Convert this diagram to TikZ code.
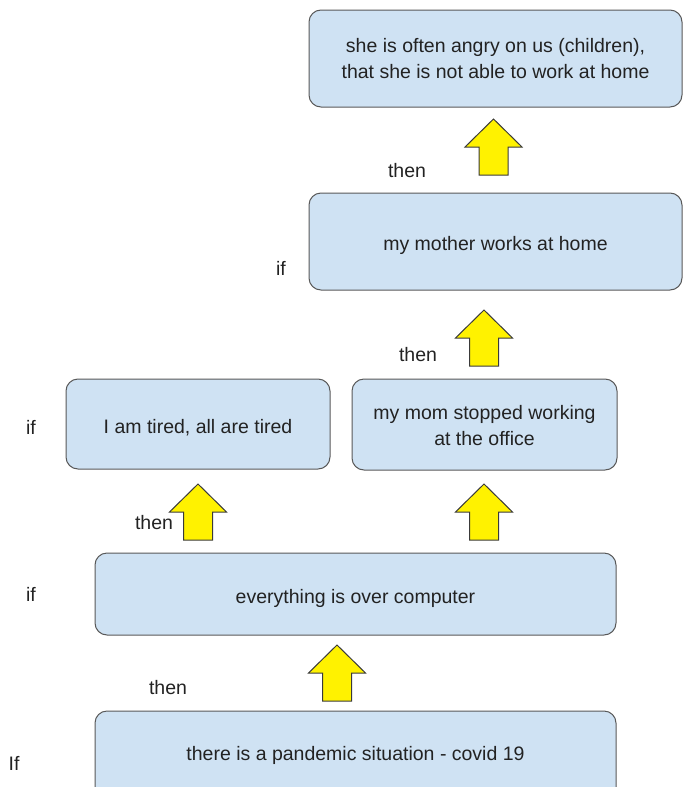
\documentclass[tikz,border=0pt]{standalone}
\usepackage{fontspec}
\setmainfont{Liberation Sans}
\begin{document}
\begin{tikzpicture}[x=1pt,y=-1pt,
  font=\fontsize{19.5}{26}\selectfont,
  box/.style={draw=boxline, fill=boxfill, line width=1pt, rounded corners=12pt,
    text=ink, align=center, inner sep=0pt},
  onebox/.style={box, text height=20pt, text depth=2pt},
  twobox/.style={box},
  word/.style={text=ink, inner sep=0pt},
  arrowfill/.style={draw=arrowline, fill=yellow, line width=1pt, line join=miter},
  uparrow/.pic={\draw[arrowfill] (-14.5,28) -- (-14.5,0) -- (-28.5,0) -- (0,-28)
     -- (28.5,0) -- (14.5,0) -- (14.5,28) -- cycle;}
]
\definecolor{boxfill}{HTML}{CFE2F3}
\definecolor{boxline}{HTML}{595959}
\definecolor{arrowline}{HTML}{3A3A3A}
\definecolor{ink}{HTML}{222222}
\useasboundingbox (0,0) rectangle (683,787);
\clip (0,0) rectangle (683,787);

% statement boxes
\node[twobox, minimum width=373pt, minimum height=97pt] (angry) at (495.5,58.5)
  {she is often angry on us (children),\\that she is not able to work at home};
\node[onebox, minimum width=373pt, minimum height=97pt] (home) at (495.5,241.5)
  {my mother works at home};
\node[onebox, minimum width=264pt, minimum height=90pt] (tired) at (198,424)
  {I am tired, all are tired};
\node[twobox, minimum width=265pt, minimum height=91pt] (office) at (484.5,424.5)
  {\rule{0pt}{16pt}my mom stopped working\\at the office};
\node[onebox, minimum width=521pt, minimum height=82pt] (computer) at (355.5,594)
  {everything is over computer};
% the lowest box runs on below the page edge
\node[box, text height=12pt, text depth=14pt, minimum width=521pt,
  minimum height=100pt] (pandemic) at (355.5,761)
  {there is a pandemic situation - covid 19};

% block arrows
\pic at (493.5,147) {uparrow};
\pic at (484,338) {uparrow};
\pic at (198,512) {uparrow};
\pic at (484,512) {uparrow};
\pic at (337,673) {uparrow};

% if / then words
\node[word] (then1) at (407,171) {then};
\node[word] (if1) at (281,268) {if};
\node[word] (then2) at (418,355) {then};
\node[word] (if2) at (31,427) {if};
\node[word] (then3) at (154,523) {then};
\node[word] (if3) at (31,594) {if};
\node[word] (then4) at (168,688) {then};
\node[word] (if4) at (14,763) {If};
\end{tikzpicture}
\end{document}
